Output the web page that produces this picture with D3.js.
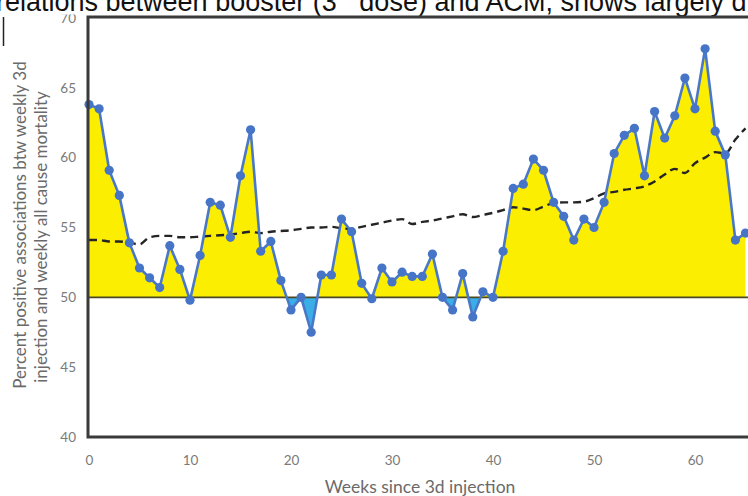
<!DOCTYPE html>
<html>
<head>
<meta charset="utf-8">
<script src="https://cdn.jsdelivr.net/npm/d3@7/dist/d3.min.js"></script>
<style>
  html, body { margin: 0; padding: 0; background: #fff; }
  svg { display: block; }
</style>
</head>
<body>
<svg id="chart" width="748" height="496"></svg>
<script>
// Weeks since the third injection
const weeks = d3.range(0, 66);

// Percent of positive associations per week
const positivePct = [
  63.8, 63.5, 59.1, 57.3, 53.9, 52.1, 51.4, 50.7, 53.7, 52.0,
  49.8, 53.0, 56.8, 56.6, 54.3, 58.7, 62.0, 53.3, 54.0, 51.2,
  49.1, 50.0, 47.5, 51.6, 51.6, 55.6, 54.7, 51.0, 49.9, 52.1,
  51.1, 51.8, 51.5, 51.5, 53.1, 50.0, 49.1, 51.7, 48.6, 50.4,
  50.0, 53.3, 57.8, 58.1, 59.9, 59.1, 56.8, 55.8, 54.1, 55.6,
  55.0, 56.8, 60.3, 61.6, 62.1, 58.7, 63.3, 61.4, 63.0, 65.7,
  63.5, 67.8, 61.9, 60.2, 54.1, 54.6
];

// Smoothed trend (dashed)
const trendPct = [
  54.1, 54.1, 54.0, 54.0, 53.9, 53.8, 54.3, 54.4, 54.4, 54.3,
  54.3, 54.35, 54.4, 54.45, 54.5, 54.6, 54.7, 54.6, 54.7, 54.75,
  54.8, 54.9, 55.0, 55.0, 55.05, 54.95, 54.9, 55.05, 55.2, 55.35,
  55.5, 55.6, 55.25, 55.4, 55.5, 55.65, 55.8, 55.95, 55.75, 55.9,
  56.05, 56.25, 56.45, 56.35, 56.25, 56.5, 56.75, 56.8, 56.8, 56.85,
  57.1, 57.45, 57.55, 57.7, 57.8, 57.95, 58.3, 58.8, 59.2, 58.9,
  59.6, 60.0, 60.4, 60.3, 61.3, 62.1
];

const xTicks = [0, 10, 20, 30, 40, 50, 60];
const yTicks = [40, 45, 50, 55, 60, 65, 70];
const baseline = 50;

const svg = d3.select("#chart");

const x = d3.scaleLinear().domain([0, 70]).range([89, 796]);
const y = d3.scaleLinear().domain([40, 70]).range([437, 18]);

const series = weeks.map((w, i) => ({ w, v: positivePct[i], t: trendPct[i] }));

const defs = svg.append("defs");
defs.append("clipPath").attr("id", "view")
  .append("rect").attr("x", 0).attr("y", 14.5).attr("width", 748).attr("height", 484);
defs.append("clipPath").attr("id", "above")
  .append("rect").attr("x", x(0)).attr("y", 0).attr("width", 748).attr("height", y(baseline));
defs.append("clipPath").attr("id", "below")
  .append("rect").attr("x", x(0)).attr("y", y(baseline)).attr("width", 748).attr("height", 496 - y(baseline));

// Caption text of the surrounding document
const cap = svg.append("text")
  .attr("x", -4).attr("y", 11)
  .attr("font-family", "Liberation Sans, Arial, sans-serif")
  .attr("font-size", 27).attr("fill", "#111");
cap.append("tspan").text("relations between booster (3");
cap.append("tspan").attr("dy", -11).attr("font-size", 17).text("rd");
cap.append("tspan").attr("dy", 11).text(" dose) and ACM, shows largely di");

// small vertical rule at the left margin
svg.append("line")
  .attr("x1", 3.5).attr("x2", 3.5).attr("y1", 17).attr("y2", 46)
  .attr("stroke", "#222").attr("stroke-width", 1.5);

const g = svg.append("g").attr("clip-path", "url(#view)");

const area = d3.area()
  .x(d => x(d.w))
  .y0(y(baseline))
  .y1(d => y(d.v));

g.append("path").datum(series)
  .attr("clip-path", "url(#above)")
  .attr("d", area)
  .attr("fill", "#fcee00");

g.append("path").datum(series)
  .attr("clip-path", "url(#below)")
  .attr("d", area)
  .attr("fill", "#3aaee6");

// reference line at 50 %
g.append("line")
  .attr("x1", x(0)).attr("x2", 748)
  .attr("y1", y(baseline)).attr("y2", y(baseline))
  .attr("stroke", "#4a4a22").attr("stroke-width", 1.6);

// trend line
g.append("path").datum(series)
  .attr("d", d3.line().x(d => x(d.w)).y(d => y(d.t)).curve(d3.curveMonotoneX))
  .attr("fill", "none")
  .attr("stroke", "#252525")
  .attr("stroke-width", 2.4)
  .attr("stroke-dasharray", "8,5");

// weekly series
g.append("path").datum(series)
  .attr("d", d3.line().x(d => x(d.w)).y(d => y(d.v)))
  .attr("fill", "none")
  .attr("stroke", "#4a78c8")
  .attr("stroke-width", 2.6)
  .attr("stroke-linejoin", "round");

g.selectAll("circle.pt").data(series).join("circle")
  .attr("class", "pt")
  .attr("cx", d => x(d.w)).attr("cy", d => y(d.v))
  .attr("r", 4.6)
  .attr("fill", "#4674c6");

// plot frame
g.append("rect")
  .attr("x", x(0) - 1).attr("y", y(70) - 1)
  .attr("width", 800).attr("height", y(40) - y(70) + 1)
  .attr("fill", "none")
  .attr("stroke", "#3a3a3a").attr("stroke-width", 3);

// y axis labels
const yAxis = d3.axisLeft(y).tickValues(yTicks).tickSize(0).tickPadding(13);
const ya = g.append("g").attr("transform", `translate(${x(0)},0)`).call(yAxis);
ya.select(".domain").remove();
ya.selectAll("text")
  .attr("font-family", "Lato, 'Open Sans', sans-serif")
  .attr("font-size", 13.5).attr("fill", "#7a7a7a");

// x axis labels
const xAxis = d3.axisBottom(x).tickValues(xTicks).tickSize(0).tickPadding(18);
const xa = g.append("g").attr("transform", `translate(0,${y(40)})`).call(xAxis);
xa.select(".domain").remove();
xa.selectAll("text")
  .attr("font-family", "Lato, 'Open Sans', sans-serif")
  .attr("font-size", 13.5).attr("fill", "#7a7a7a");

// axis titles
svg.append("text")
  .attr("x", 420).attr("y", 493)
  .attr("text-anchor", "middle")
  .attr("font-family", "Lato, 'Open Sans', sans-serif")
  .attr("font-size", 17.5).attr("fill", "#6a6a6a")
  .text("Weeks since 3d injection");

const yTitle = svg.append("text")
  .attr("transform", "translate(0,225) rotate(-90)")
  .attr("text-anchor", "middle")
  .attr("font-family", "Lato, 'Open Sans', sans-serif")
  .attr("font-size", 17).attr("fill", "#6a6a6a");
yTitle.append("tspan").attr("x", 0).attr("y", 26).text("Percent positive associations btw weekly 3d");
yTitle.append("tspan").attr("x", -12).attr("y", 47).text("injection and weekly all cause mortality");
</script>
</body>
</html>
